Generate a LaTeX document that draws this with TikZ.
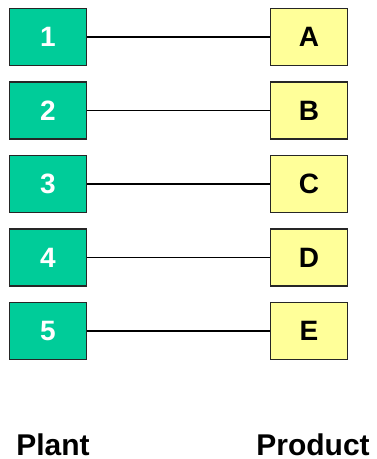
\documentclass[tikz,border=0pt]{standalone}
\usepackage{fontspec}
\setmainfont{Liberation Sans}
\definecolor{plantgreen}{HTML}{00CC99}
\definecolor{prodyellow}{HTML}{FFFF99}
\begin{document}
\begin{tikzpicture}[x=1pt,y=-1pt,
  plantbox/.style={draw=black!85,line width=1.8pt,fill=plantgreen,minimum width=77pt,minimum height=57pt,inner sep=0pt,text=white,font=\fontsize{28}{30}\selectfont\bfseries},
  prodbox/.style={draw=black!85,line width=1.8pt,fill=prodyellow,minimum width=77pt,minimum height=57pt,inner sep=0pt,text=black,font=\fontsize{28}{30}\selectfont\bfseries},
  link/.style={draw=black,line width=1.4pt},
  caption/.style={font=\fontsize{30}{32}\selectfont\bfseries,inner sep=0pt}]
\useasboundingbox (0,0) rectangle (376,459);
\foreach \i/\p/\q/\y in {1/1/A/37,2/2/B/110.5,3/3/C/184,4/4/D/257.5,5/5/E/331}{
  \node[plantbox] (p\i) at (48,\y) {\p};
  \node[prodbox] (q\i) at (309,\y) {\q};
  \draw[link] (p\i) -- (q\i);
}
\node[caption] (plant) at (53,445) {Plant};
\node[caption] (product) at (313,445) {Product};
\end{tikzpicture}
\end{document}
